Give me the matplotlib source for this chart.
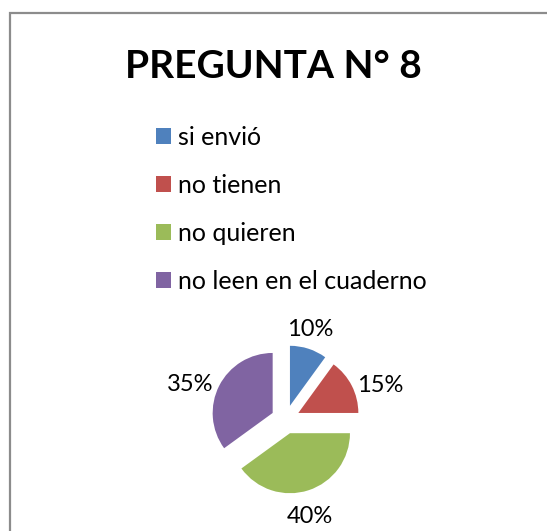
import matplotlib
matplotlib.use("Agg")
import matplotlib.pyplot as plt
from matplotlib.patches import Rectangle
import numpy as np

title = "PREGUNTA N° 8"
categories = ["si envió", "no tienen", "no quieren", "no leen en el cuaderno"]
values = [10, 15, 40, 35]
colors = ["#4F81BD", "#C0504D", "#9BBB59", "#8064A2"]

W, H = 547, 531
fig = plt.figure(figsize=(W / 100, H / 100), dpi=100)
plt.rcParams['font.family'] = ['Lato', 'DejaVu Sans']

# border
fig.patches.append(Rectangle((10 / W, -0.05), 1.1, (H - 12.5) / H + 0.05,
                             transform=fig.transFigure, fill=False,
                             edgecolor="#8c8c8c", linewidth=1.6))

fig.text(273.5 / W, 1 - 67 / H, title, ha="center", va="center",
         fontsize=28, fontweight="bold", color="black")

cx, cy, r = 285.5, 419.5, 60
half = 1.8
ax = fig.add_axes([(cx - half * r) / W, (H - cy - half * r) / H,
                   2 * half * r / W, 2 * half * r / H])
ax.set_xlim(-half, half)
ax.set_ylim(-half, half)
ax.set_aspect("equal")
ax.axis("off")

wedges, texts, autotexts = ax.pie(values, colors=colors, startangle=90,
                                  counterclock=False, explode=[0.24] * 4,
                                  autopct="%d%%", pctdistance=1.4,
                                  radius=1, frame=False,
                                  textprops={"fontsize": 17, "color": "black"})
# label placement (angle in degrees, distance in radii from pie centre)
label_pos = [(74.7, 1.55), (20.0, 1.68), (-75.7, 1.66), (160.0, 1.69)]
for t, (ang, dist) in zip(autotexts, label_pos):
    a = np.deg2rad(ang)
    t.set_position((dist * np.cos(a), dist * np.sin(a)))
    t.set_ha("center")
    t.set_va("center")
ax.set_xlim(-half, half)
ax.set_ylim(-half, half)

leg = fig.legend(wedges, categories, loc="upper left",
                 bbox_to_anchor=(156 / W, 1 - 126 / H),
                 frameon=False, fontsize=18, borderpad=0, borderaxespad=0,
                 handlelength=0.6, handleheight=0.6, handletextpad=0.3,
                 labelspacing=1.0)

fig.savefig("out.png", dpi=100)
